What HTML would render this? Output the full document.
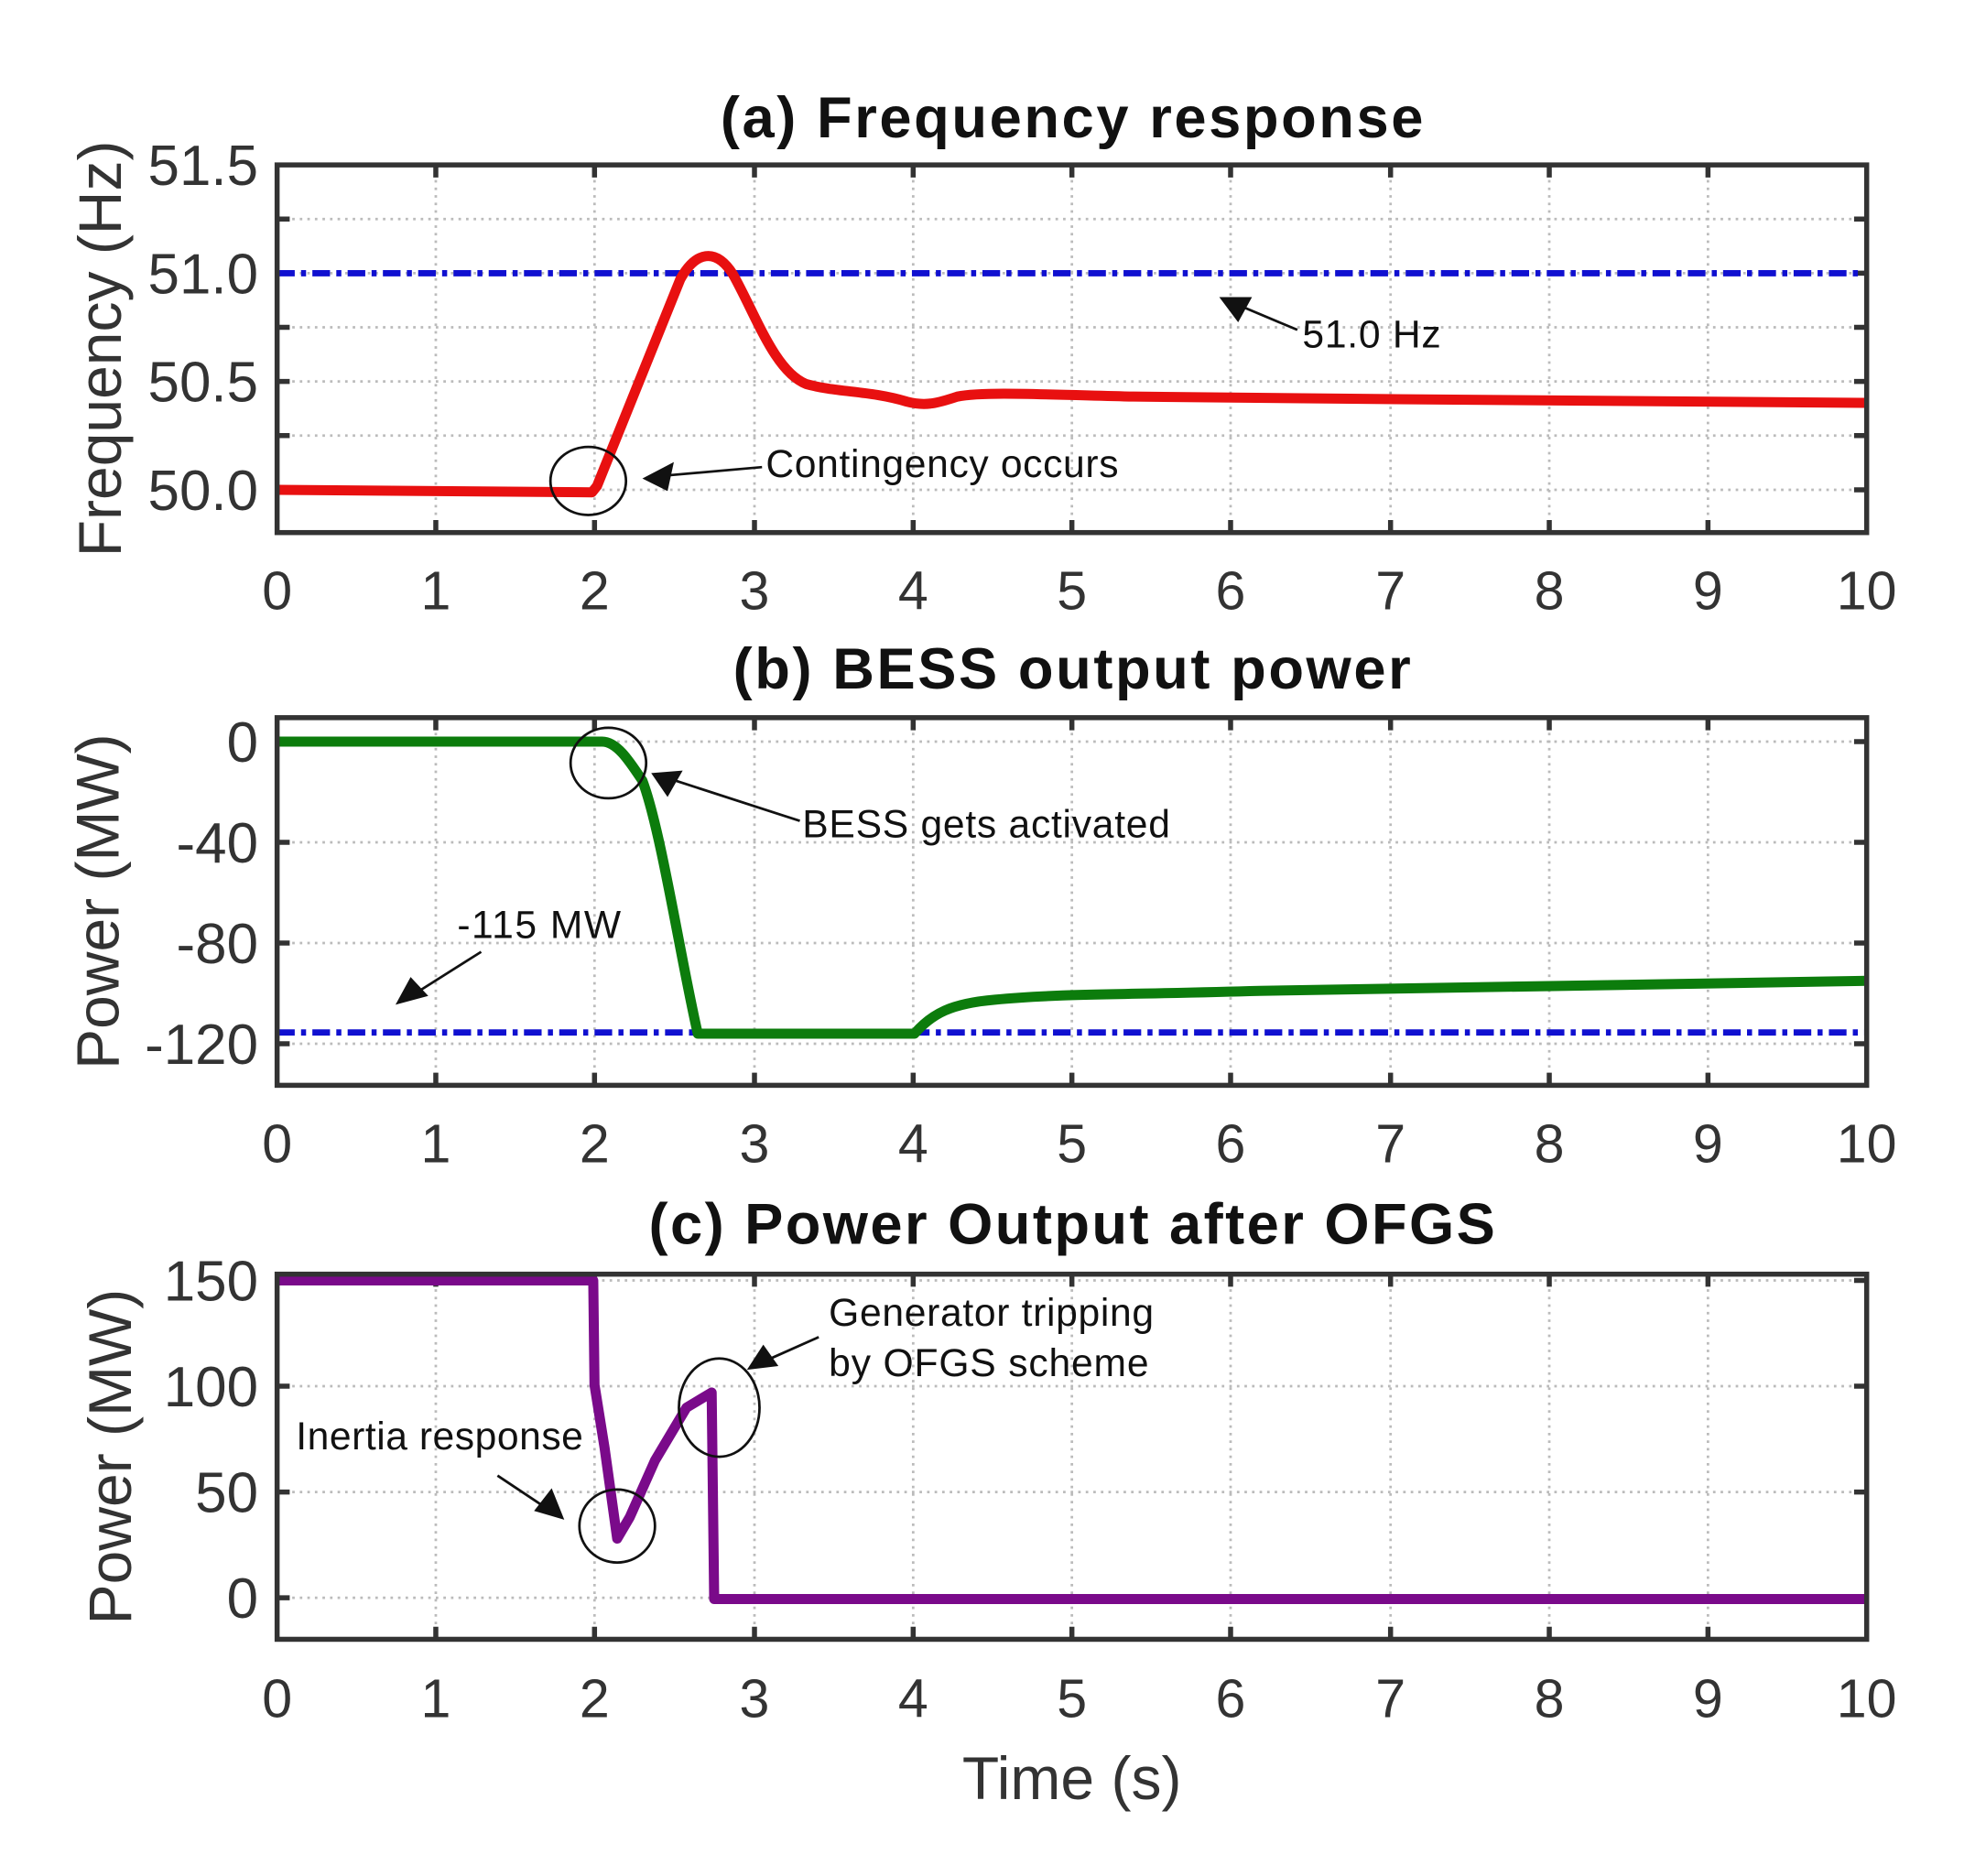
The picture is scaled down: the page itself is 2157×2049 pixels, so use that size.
<!DOCTYPE html>
<html><head><meta charset="utf-8"><style>
html,body{margin:0;padding:0;background:#fff;}
svg{display:block;}
text{font-family:"Liberation Sans",Arial,sans-serif;}
</style></head><body>
<svg width="2157" height="2049" viewBox="0 0 1568 1490" preserveAspectRatio="none" xmlns="http://www.w3.org/2000/svg">
<rect width="1568" height="1490" fill="#fff"/>
<g id="grid" stroke="#bbb" stroke-width="2" stroke-dasharray="2,4" fill="none">
 <path d="M346 131V423M472 131V423M599 131V423M725 131V423M851 131V423M977 131V423M1104 131V423M1230 131V423M1356 131V423"/>
 <path d="M220 174H1482M220 217H1482M220 260H1482M220 303H1482M220 346H1482M220 389H1482"/>
 <path d="M346 570V862M472 570V862M599 570V862M725 570V862M851 570V862M977 570V862M1104 570V862M1230 570V862M1356 570V862"/>
 <path d="M220 589H1482M220 669H1482M220 749H1482M220 829H1482"/>
 <path d="M346 1012V1302M472 1012V1302M599 1012V1302M725 1012V1302M851 1012V1302M977 1012V1302M1104 1012V1302M1230 1012V1302M1356 1012V1302"/>
 <path d="M220 1017H1482M220 1101H1482M220 1185H1482M220 1269H1482"/>
</g>
<g stroke="#333" stroke-width="4">
 <path d="M346 131v10M472 131v10M599 131v10M725 131v10M851 131v10M977 131v10M1104 131v10M1230 131v10M1356 131v10M346 423v-10M472 423v-10M599 423v-10M725 423v-10M851 423v-10M977 423v-10M1104 423v-10M1230 423v-10M1356 423v-10"/>
 <path d="M220 174h10M220 217h10M220 260h10M220 303h10M220 346h10M220 389h10M1482 174h-10M1482 217h-10M1482 260h-10M1482 303h-10M1482 346h-10M1482 389h-10"/>
 <path d="M346 570v10M472 570v10M599 570v10M725 570v10M851 570v10M977 570v10M1104 570v10M1230 570v10M1356 570v10M346 862v-10M472 862v-10M599 862v-10M725 862v-10M851 862v-10M977 862v-10M1104 862v-10M1230 862v-10M1356 862v-10"/>
 <path d="M220 589h10M220 669h10M220 749h10M220 829h10M1482 589h-10M1482 669h-10M1482 749h-10M1482 829h-10"/>
 <path d="M346 1012v10M472 1012v10M599 1012v10M725 1012v10M851 1012v10M977 1012v10M1104 1012v10M1230 1012v10M1356 1012v10M346 1302v-10M472 1302v-10M599 1302v-10M725 1302v-10M851 1302v-10M977 1302v-10M1104 1302v-10M1230 1302v-10M1356 1302v-10"/>
 <path d="M220 1017h10M220 1101h10M220 1185h10M220 1269h10M1482 1017h-10M1482 1101h-10M1482 1185h-10M1482 1269h-10"/>
</g>
<path d="M220 217H1482" stroke="#1010d0" stroke-width="5" stroke-dasharray="14,5,4,5"/>
<path d="M220 820H1482" stroke="#1010d0" stroke-width="5" stroke-dasharray="14,5,4,5"/>
<path d="M220 389 L470 391 L474 386 L540 222 C552 200 568 196 582 218 C600 250 615 295 640 305 C665 312 690 310 720 319 C735 323 745 320 760 315 C780 311 820 313 900 315 L1100 317 L1482 320" fill="none" stroke="#e81010" stroke-width="8" stroke-linejoin="round"/>
<path d="M220 589 L478 589 C490 589 500 605 510 620 C525 660 540 760 554 821 L726 821 C740 805 755 797 790 794 C840 789 900 790 1000 787 L1482 779" fill="none" stroke="#0c7c0c" stroke-width="8" stroke-linejoin="round"/>
<path d="M220 1017 L471 1017 L472 1100 L480 1150 L490 1222 L500 1205 L520 1160 L545 1118 L565 1106 L567 1270 L1482 1270" fill="none" stroke="#7a0a8a" stroke-width="8" stroke-linejoin="round"/>
<g fill="none" stroke="#333" stroke-width="4">
 <rect x="220" y="131" width="1262" height="292"/>
 <rect x="220" y="570" width="1262" height="292"/>
 <rect x="220" y="1012" width="1262" height="290"/>
</g>
<g fill="none" stroke="#111" stroke-width="2">
 <ellipse cx="467" cy="382" rx="30" ry="27"/>
 <path d="M605 371 L525 378"/>
 <path d="M1030 262 L980 241"/>
 <ellipse cx="483" cy="606" rx="30" ry="28"/>
 <path d="M635 652 L530 618"/>
 <path d="M382 756 L325 792"/>
 <ellipse cx="571" cy="1118" rx="32" ry="39"/>
 <path d="M650 1062 L605 1082"/>
 <ellipse cx="490" cy="1212" rx="30" ry="29"/>
 <path d="M395 1172 L440 1202"/>
</g>
<g fill="#111">
 <polygon points="510,380 535,367 530,390"/>
 <polygon points="968,236 994,236 983,256"/>
 <polygon points="517,614 542,612 530,633"/>
 <polygon points="314,798 326,776 340,791"/>
 <polygon points="593,1088 606,1068 618,1085"/>
 <polygon points="448,1207 424,1200 438,1182"/>
</g>
<g font-size="31" fill="#111">
 <text x="608" y="379" textLength="280">Contingency occurs</text>
 <text x="1034" y="276" textLength="110">51.0 Hz</text>
 <text x="637" y="665" textLength="292">BESS gets activated</text>
 <text x="363" y="745" textLength="130">-115 MW</text>
 <text x="658" y="1053" textLength="258">Generator tripping</text>
 <text x="658" y="1093" textLength="254">by OFGS scheme</text>
 <text x="235" y="1151" textLength="228">Inertia response</text>
</g>
<g font-size="46" font-weight="bold" fill="#111" text-anchor="middle">
 <text x="851" y="109" textLength="558">(a) Frequency response</text>
 <text x="851" y="547" textLength="538">(b) BESS output power</text>
 <text x="851" y="988" textLength="672">(c) Power Output after OFGS</text>
</g>
<g font-size="43" fill="#333" text-anchor="middle">
 <text x="220" y="484">0</text><text x="346" y="484">1</text><text x="472" y="484">2</text><text x="599" y="484">3</text><text x="725" y="484">4</text><text x="851" y="484">5</text><text x="977" y="484">6</text><text x="1104" y="484">7</text><text x="1230" y="484">8</text><text x="1356" y="484">9</text><text x="1482" y="484">10</text>
 <text x="220" y="923">0</text><text x="346" y="923">1</text><text x="472" y="923">2</text><text x="599" y="923">3</text><text x="725" y="923">4</text><text x="851" y="923">5</text><text x="977" y="923">6</text><text x="1104" y="923">7</text><text x="1230" y="923">8</text><text x="1356" y="923">9</text><text x="1482" y="923">10</text>
 <text x="220" y="1364">0</text><text x="346" y="1364">1</text><text x="472" y="1364">2</text><text x="599" y="1364">3</text><text x="725" y="1364">4</text><text x="851" y="1364">5</text><text x="977" y="1364">6</text><text x="1104" y="1364">7</text><text x="1230" y="1364">8</text><text x="1356" y="1364">9</text><text x="1482" y="1364">10</text>
</g>
<g font-size="45" fill="#333" text-anchor="end">
 <text x="205" y="147">51.5</text><text x="205" y="233">51.0</text><text x="205" y="319">50.5</text><text x="205" y="405">50.0</text>
 <text x="205" y="605">0</text><text x="205" y="685">-40</text><text x="205" y="765">-80</text><text x="205" y="845">-120</text>
 <text x="205" y="1033">150</text><text x="205" y="1117">100</text><text x="205" y="1201">50</text><text x="205" y="1285">0</text>
</g>
<g font-size="48" fill="#333" text-anchor="middle">
 <text transform="translate(96,277) rotate(-90)">Frequency (Hz)</text>
 <text transform="translate(94,716) rotate(-90)">Power (MW)</text>
 <text transform="translate(104,1157) rotate(-90)">Power (MW)</text>
 <text x="851" y="1429">Time (s)</text>
</g>
</svg>
</body></html>
